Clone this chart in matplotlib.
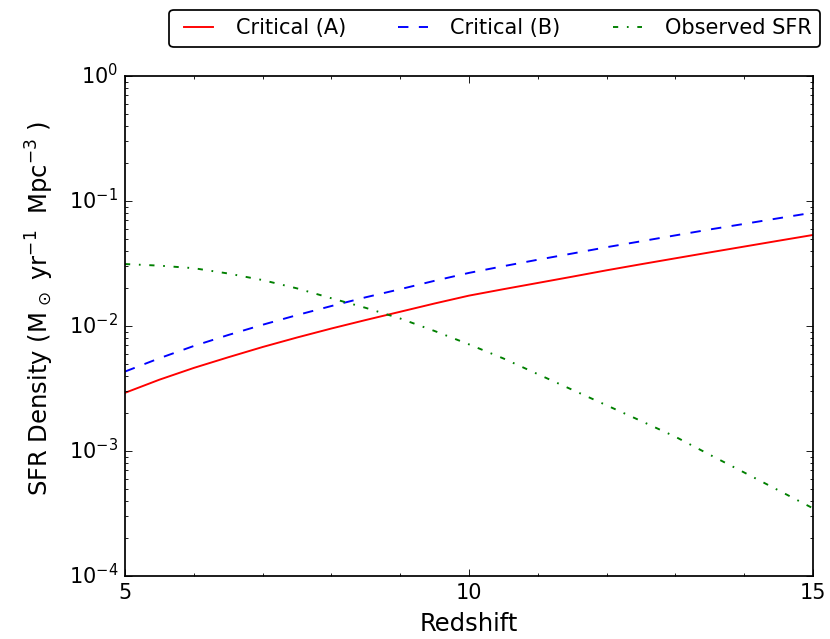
import matplotlib
matplotlib.use("Agg")
import matplotlib.pyplot as plt
from matplotlib.ticker import MultipleLocator

plt.style.use('classic')
plt.rcParams['font.family'] = ['DejaVu Sans']
plt.rcParams['mathtext.fontset'] = 'dejavusans'
plt.rcParams['figure.facecolor'] = 'white'
plt.rcParams['savefig.facecolor'] = 'white'

redshift = [5.0, 5.5, 6.0, 6.5, 7.0, 7.5, 8.0, 8.5, 9.0, 9.5, 10.0,
            10.5, 11.0, 11.5, 12.0, 12.5, 13.0, 13.5, 14.0, 14.5, 15.0]
critical_a = [2.92e-3, 3.72e-3, 4.62e-3, 5.62e-3, 6.79e-3, 8.09e-3, 9.55e-3,
              1.117e-2, 1.30e-2, 1.514e-2, 1.75e-2, 1.97e-2, 2.21e-2, 2.48e-2,
              2.79e-2, 3.12e-2, 3.48e-2, 3.88e-2, 4.32e-2, 4.81e-2, 5.35e-2]
critical_b = [4.32e-3, 5.52e-3, 6.92e-3, 8.47e-3, 1.023e-2, 1.222e-2, 1.445e-2,
              1.698e-2, 1.97e-2, 2.30e-2, 2.66e-2, 3.01e-2, 3.39e-2, 3.80e-2,
              4.27e-2, 4.76e-2, 5.31e-2, 5.92e-2, 6.56e-2, 7.28e-2, 8.07e-2]
observed = [3.13e-2, 3.04e-2, 2.90e-2, 2.63e-2, 2.33e-2, 2.00e-2, 1.667e-2,
            1.396e-2, 1.148e-2, 9.12e-3, 7.13e-3, 5.50e-3, 4.12e-3, 3.09e-3,
            2.32e-3, 1.74e-3, 1.30e-3, 9.33e-4, 6.73e-4, 4.84e-4, 3.48e-4]

fig = plt.figure(figsize=(6.64, 5.112), dpi=125)
ax = fig.add_axes([125/830, 1-576/639, (813-125)/830, (576-76)/639])

ax.plot(redshift, critical_a, color='red', ls='-', lw=1.1, label='Critical (A)')
ax.plot(redshift, critical_b, color='blue', ls='--', lw=1.1, label='Critical (B)')
ax.plot(redshift, observed, color='green', ls='-.', lw=1.1, label='Observed SFR')

ax.set_yscale('log')
ax.set_xlim(5, 15)
ax.set_ylim(1e-4, 1)
ax.xaxis.set_major_locator(MultipleLocator(5))
ax.xaxis.set_minor_locator(MultipleLocator(1))
ax.set_xlabel('Redshift', fontsize=14)
ax.set_ylabel(r'SFR Density (M$_{\,\odot}$ yr$^{-1}$  Mpc$^{-3}$ )', fontsize=14)
ax.yaxis.set_label_coords(-0.100, 0.535)
ax.tick_params(labelsize=12)

leg = fig.legend(loc='upper right', bbox_to_anchor=(820/830, 1-10/639),
                 bbox_transform=fig.transFigure, ncol=3, borderaxespad=0,
                 columnspacing=2.2, fancybox=True, fontsize=12, frameon=True)
leg.get_frame().set_edgecolor('black')

fig.savefig('out.png', dpi=125)
